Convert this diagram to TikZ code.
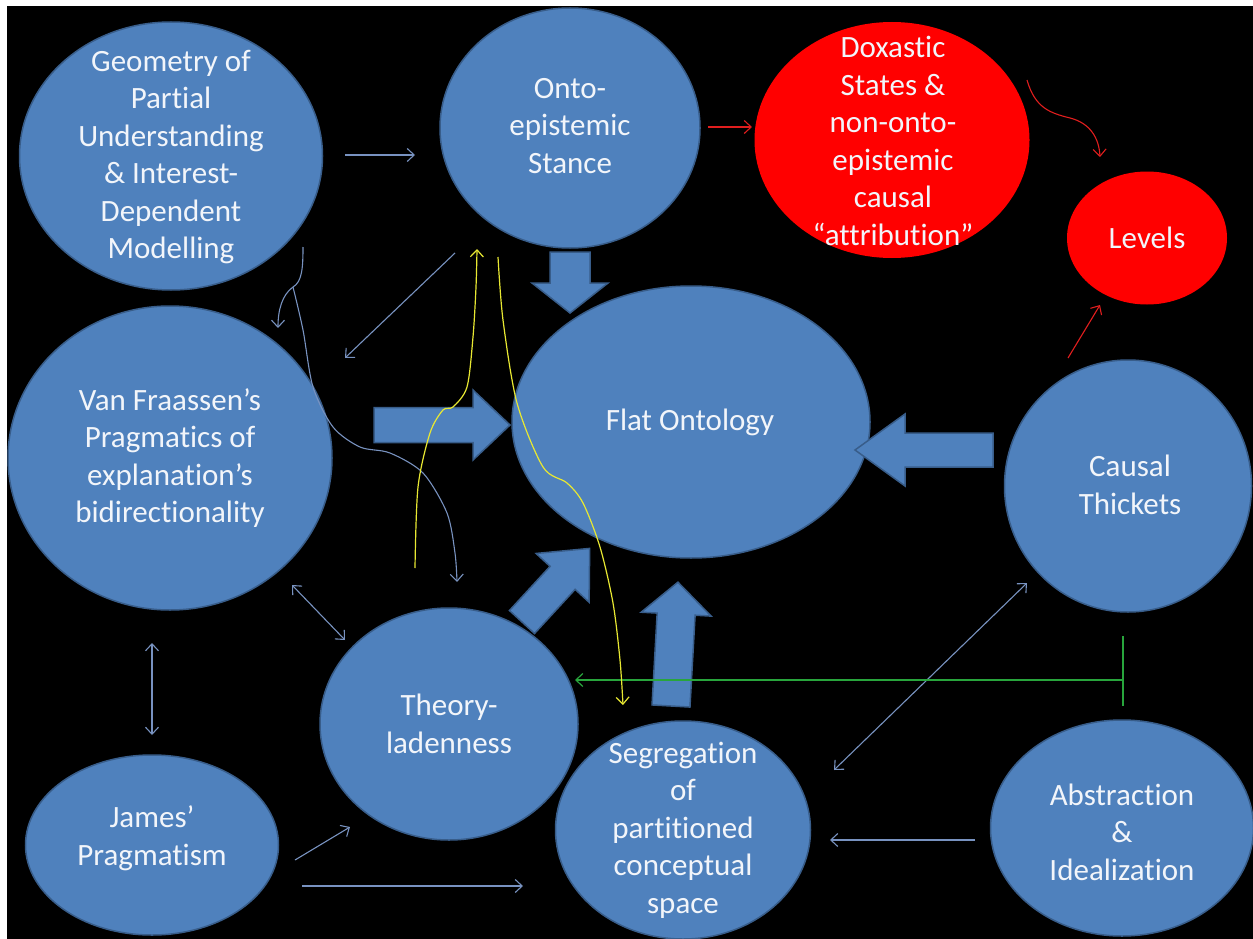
\documentclass[tikz,border=0pt]{standalone}
\usepackage{fontspec}
\setmainfont{Carlito}[Ligatures=NoCommon]
\usetikzlibrary{shapes.geometric,arrows.meta}
\definecolor{nodeblue}{RGB}{79,129,189}
\definecolor{nodeedge}{RGB}{56,93,138}
\definecolor{nodered}{RGB}{255,0,0}
\definecolor{txtc}{RGB}{242,245,250}
\definecolor{linec}{RGB}{120,146,192}
\definecolor{yel}{RGB}{232,232,50}
\definecolor{grn}{RGB}{40,165,60}
\definecolor{redline}{RGB}{225,30,30}
\newcommand{\blockarrow}[7]{%
\begin{scope}[shift={(#1,#2)},rotate=#3]
\draw[blockarr] (0,-#5) -- (#4-#7,-#5) -- (#4-#7,-#6) -- (#4,0) -- (#4-#7,#6) -- (#4-#7,#5) -- (0,#5) -- cycle;
\end{scope}}
\begin{document}
\begin{tikzpicture}[x=1pt,y=-1pt,
  bubble/.style={ellipse, fill=nodeblue, draw=nodeedge, line width=1.5pt, inner sep=0pt},
  redbubble/.style={ellipse, fill=nodered, inner sep=0pt},
  txt/.style={text=txtc, align=center, inner sep=0pt, font=\fontsize{31}{37.5}\selectfont},
  blockarr/.style={fill=nodeblue, draw=nodeedge, line width=1.5pt, line join=miter},
  tip/.style={-{Straight Barb[length=7pt,width=13pt]}},
  thinarrow/.style={draw=linec, line width=1.1pt, tip},
  twoway/.style={draw=linec, line width=1.1pt, {Straight Barb[length=7pt,width=13pt]}-{Straight Barb[length=7pt,width=13pt]}},
  redarrow/.style={draw=redline, line width=1.1pt, tip},
  yelarrow/.style={draw=yel, line width=1.2pt, tip},
  grnarrow/.style={draw=grn, line width=1.2pt, tip}
]
\useasboundingbox (0,0) rectangle (1253,939);
\fill[white] (0,0) rectangle (1253,939);
\fill[black] (7,6) rectangle (1253,939);

% ellipses
\node[bubble, minimum width=303pt, minimum height=268pt] (geo) at (171,156) {};
\node[bubble, minimum width=260pt, minimum height=240pt] (onto) at (570,128) {};
\node[redbubble, minimum width=275pt, minimum height=236pt] (dox) at (892,140) {};
\node[redbubble, minimum width=160pt, minimum height=133pt] (lev) at (1147,238) {};
\node[bubble, minimum width=324pt, minimum height=304pt] (vf) at (170,458) {};
\node[bubble, minimum width=358pt, minimum height=272pt] (flat) at (691,422) {};
\node[bubble, minimum width=247pt, minimum height=252pt] (caus) at (1128,486) {};
\node[bubble, minimum width=258pt, minimum height=232pt] (theo) at (449,724) {};
\node[bubble, minimum width=253pt, minimum height=180pt] (jam) at (152,845) {};
\node[bubble, minimum width=255pt, minimum height=218pt] (seg) at (683,830) {};
\node[bubble, minimum width=263pt, minimum height=216pt] (abs) at (1122,828) {};

% texts
\node[txt] (geoT) at (171,157) {Geometry of\\Partial\\Understanding\\\& Interest-\\Dependent\\Modelling};
\node[txt] (ontoT) at (570,126) {Onto-\\epistemic\\Stance};
\node[txt] (doxT) at (893,141) {Doxastic\\States \&\\non-onto-\\epistemic\\causal\\“attribution”};
\node[txt] (levT) at (1147,238) {Levels};
\node[txt] (vfT) at (170,458) {Van Fraassen’s\\Pragmatics of\\explanation’s\\bidirectionality};
\node[txt] (flatT) at (690,422) {Flat Ontology};
\node[txt] (causT) at (1130,485) {Causal\\Thickets};
\node[txt] (theoT) at (449,724) {Theory-\\ladenness};
\node[txt] (jamT) at (152,838) {James’\\Pragmatism};
\node[txt] (segT) at (683,830) {Segregation\\of\\partitioned\\conceptual\\space};
\node[txt] (absT) at (1122,832) {Abstraction\\\&\\Idealization};

% block arrows
\blockarrow{570}{252}{-90}{61}{20}{38}{30}
\blockarrow{374}{425}{0}{136}{17.5}{35}{37}
\blockarrow{993}{450}{180}{138}{17}{36}{50}
\blockarrow{522}{622}{47.4}{100}{17}{36}{40}
\blockarrow{671}{706}{86.8}{124}{19}{35}{32}

% endpoints of thin connectors
\coordinate (g2oA) at (345,155); \coordinate (g2oB) at (415,155);
\coordinate (o2vA) at (455,253); \coordinate (o2vB) at (345,358);
\coordinate (o2dA) at (708,127); \coordinate (o2dB) at (752,127);
\coordinate (d2lA) at (1027,80); \coordinate (d2lB) at (1100,157);
\coordinate (c2lA) at (1068,358); \coordinate (c2lB) at (1100,305);
\coordinate (gsA) at (303,247); \coordinate (gsJ) at (293,287); \coordinate (gsB) at (278,328);
\coordinate (gtB) at (457,582);
\coordinate (vtA) at (292,585); \coordinate (vtB) at (345,640);
\coordinate (vjA) at (152,643); \coordinate (vjB) at (152,735);
\coordinate (jtA) at (295,860); \coordinate (jtB) at (350,827);
\coordinate (jsA) at (302,886); \coordinate (jsB) at (523,886);
\coordinate (asA) at (975,840); \coordinate (asB) at (830,840);
\coordinate (csA) at (1027,583); \coordinate (csB) at (834,770);
\coordinate (gT) at (1123,636); \coordinate (gB) at (1123,706);
\coordinate (gM) at (1123,680); \coordinate (gE) at (575,680);

% thin connectors
\draw[thinarrow] (g2oA) -- (g2oB);
\draw[thinarrow] (o2vA) -- (o2vB);
\draw[redarrow] (o2dA) -- (o2dB);
\draw[redarrow] (d2lA) .. controls (1035,108) and (1050,113) .. (1070,118) .. controls (1090,123) and (1099,138) .. (d2lB);
\draw[redarrow] (c2lA) -- (c2lB);
\draw[thinarrow] (gsA) .. controls (303,268) and (302,282) .. (gsJ) .. controls (282,295) and (278,310) .. (gsB);
\draw[thinarrow] plot[smooth] coordinates {(293,287) (303,330) (313,387) (333,427) (360,447) (390,453) (423,473) (447,513) (455,553) (457,582)};
\draw[twoway] (vtA) -- (vtB);
\draw[twoway] (vjA) -- (vjB);
\draw[thinarrow] (jtA) -- (jtB);
\draw[thinarrow] (jsA) -- (jsB);
\draw[thinarrow] (asA) -- (asB);
\draw[twoway] (csA) -- (csB);
\draw[draw=grn, line width=1.2pt] (gT) -- (gB);
\draw[grnarrow] (gM) -- (gE);
\draw[yelarrow] plot[smooth] coordinates {(415,568) (418,487) (430,433) (443,410) (453,407) (467,387) (473,337) (476,287) (477,249)};
\draw[yelarrow] plot[smooth] coordinates {(498,257) (503,320) (517,403) (543,467) (567,483) (583,503) (600,547) (613,603) (620,660) (623,705)};
\end{tikzpicture}
\end{document}
